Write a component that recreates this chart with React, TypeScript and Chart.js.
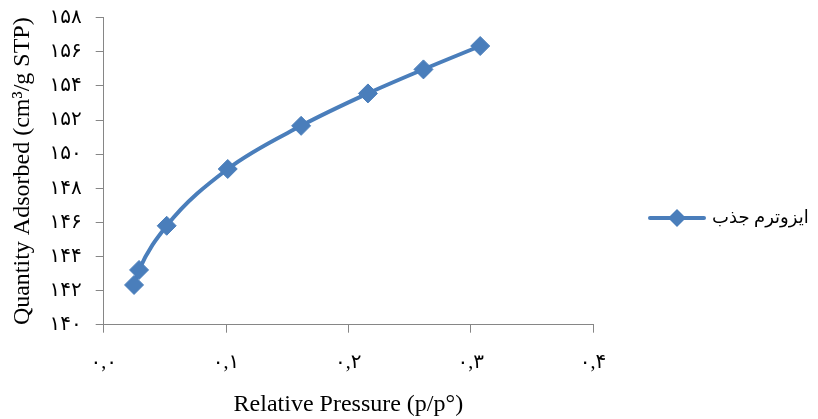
import React, { useEffect, useRef } from "react";
import { Chart, registerables } from "chart.js";

Chart.register(...registerables);

const pressure = [0.0248, 0.0289, 0.0515, 0.1014, 0.1614, 0.216, 0.2614, 0.3078];
const adsorbed = [142.33, 143.21, 145.8, 149.13, 151.66, 153.56, 154.97, 156.34];
const seriesName = "ایزوترم جذب";
const xTitle = "Relative Pressure (p/p°)";
const yTitle = "Quantity Adsorbed (cm³/g STP)";
const faDigits = ["۰", "۱", "۲", "۳", "۴", "۵", "۶", "۷", "۸", "۹"];

const toFa = (s: string) => s.replace(/[0-9]/g, (d) => faDigits[Number(d)]);

const BLUE = "#4A7EBB";
const AXIS = "#868686";
const FONT = "'Liberation Serif', 'Times New Roman', 'DejaVu Sans', serif";

const legendPlugin = {
  id: "customLegend",
  afterDraw(chart: any) {
    const ctx = chart.ctx;
    const ds = chart.data.datasets[0];
    const y = 218;
    const x0 = 650;
    const x1 = 704;
    ctx.save();
    ctx.strokeStyle = ds.borderColor;
    ctx.lineWidth = 4;
    ctx.lineCap = "round";
    ctx.beginPath();
    ctx.moveTo(x0, y);
    ctx.lineTo(x1, y);
    ctx.stroke();
    const cx = (x0 + x1) / 2;
    const r = 9;
    ctx.fillStyle = ds.pointBackgroundColor;
    ctx.beginPath();
    ctx.moveTo(cx, y - r);
    ctx.lineTo(cx + r, y);
    ctx.lineTo(cx, y + r);
    ctx.lineTo(cx - r, y);
    ctx.closePath();
    ctx.fill();
    ctx.fillStyle = "#000";
    ctx.font = `18px ${FONT}`;
    ctx.textBaseline = "middle";
    ctx.textAlign = "left";
    ctx.fillText(ds.label, 712, y);
    ctx.restore();
  },
};

export default function App() {
  const ref = useRef<HTMLCanvasElement>(null);
  useEffect(() => {
    if (!ref.current) return;
    const chart = new Chart(ref.current, {
      type: "line",
      data: {
        datasets: [
          {
            label: seriesName,
            data: pressure.map((x, i) => ({ x, y: adsorbed[i] })),
            borderColor: BLUE,
            backgroundColor: BLUE,
            pointBackgroundColor: BLUE,
            pointBorderColor: BLUE,
            borderWidth: 4,
            pointStyle: "rectRot",
            pointRadius: 9.5,
            pointBorderWidth: 1,
            cubicInterpolationMode: "monotone",
          },
        ],
      },
      options: {
        responsive: false,
        animation: false,
        layout: { padding: { left: 0, right: 225, top: 17.7, bottom: 0 } },
        plugins: {
          legend: { display: false },
          tooltip: { enabled: false },
        },
        scales: {
          x: {
            type: "linear",
            min: 0,
            max: 0.4,
            ticks: {
              stepSize: 0.1,
              padding: 18,
              color: "#000",
              font: { family: FONT, size: 20 },
              callback: (v: any) => toFa(Number(v).toFixed(1).replace(".", ",")),
            },
            grid: { drawOnChartArea: false, drawTicks: true, tickLength: 8, color: AXIS },
            border: { color: AXIS, width: 1 },
            title: {
              display: true,
              text: xTitle,
              color: "#000",
              font: { family: FONT, size: 24 },
              padding: { top: 3, bottom: 0 },
            },
            afterFit: (s: any) => {
              s.height = 419 - 324.7;
              s.paddingLeft = 0;
              s.paddingRight = 0;
            },
          },
          y: {
            type: "linear",
            min: 140,
            max: 158,
            ticks: {
              stepSize: 2,
              padding: 14,
              color: "#000",
              font: { family: FONT, size: 20 },
              callback: (v: any) => toFa(String(v)),
            },
            grid: { drawOnChartArea: false, drawTicks: true, tickLength: 8, color: AXIS },
            border: { color: AXIS, width: 1 },
            title: {
              display: true,
              text: yTitle,
              color: "#000",
              font: { family: FONT, size: 24 },
              padding: { top: 8, bottom: 4 },
            },
            afterFit: (s: any) => {
              s.width = 103.7;
              s.paddingTop = 0;
              s.paddingBottom = 0;
            },
          },
        },
      },
      plugins: [legendPlugin],
    } as any);
    return () => chart.destroy();
  }, []);
  return (
    <div style={{ position: "fixed", left: 0, top: 0, width: 818, height: 419, background: "#fff" }}>
      <canvas ref={ref} width={818} height={419} style={{ display: "block" }} />
    </div>
  );
}
